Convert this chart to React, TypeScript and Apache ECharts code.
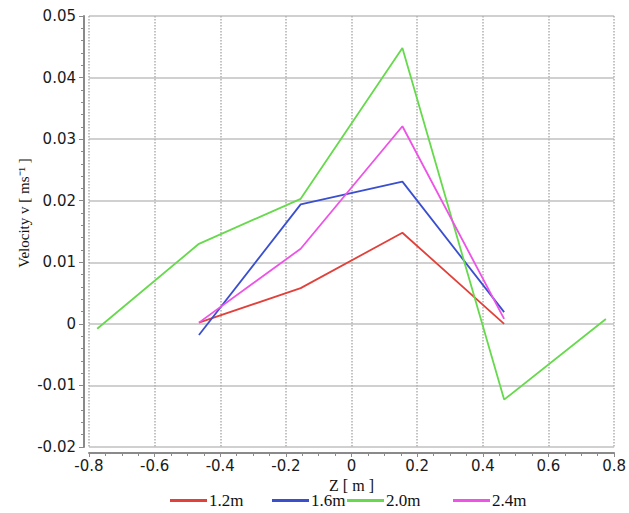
import React, { useEffect, useRef } from "react";
import * as echarts from "echarts";

const zFull = [-0.775, -0.465, -0.155, 0.155, 0.465, 0.775];
const zInner = [-0.465, -0.155, 0.155, 0.465];

const v12 = [0.0002, 0.0058, 0.0148, 0.0];
const v16 = [-0.0018, 0.0194, 0.0231, 0.0019];
const v20 = [-0.0008, 0.013, 0.0203, 0.0448, -0.0123, 0.0008];
const v24 = [0.0002, 0.0122, 0.0321, 0.0008];

const seriesNames = ["1.2m", "1.6m", "2.0m", "2.4m"];
const seriesColors = ["#e2403a", "#3a4fcf", "#66d94c", "#ee52e6"];
const legendLeft = [170, 272, 347, 453];

const xTitle = "Z [ m ]";
const yTitle = "Velocity v [ ms⁻¹ ]";

const pairs = (xs: number[], ys: number[]) => xs.map((x, i) => [x, ys[i]]);

export default function App() {
  const ref = useRef<HTMLDivElement>(null);
  useEffect(() => {
    if (!ref.current) return;
    const chart = echarts.init(ref.current, undefined, { renderer: "svg" });
    const dataSets = [
      pairs(zInner, v12),
      pairs(zInner, v16),
      pairs(zFull, v20),
      pairs(zInner, v24),
    ];
    const tickFont = {
      fontFamily: "DejaVu Sans",
      fontSize: 15,
      color: "#1a1a1a",
    };
    chart.setOption({
      animation: false,
      backgroundColor: "#fff",
      grid: { left: 89, right: 14, top: 16, bottom: 66, containLabel: false },
      legend: seriesNames.map((n, i) => ({
        data: [n],
        left: legendLeft[i],
        top: 492,
        icon: "rect",
        itemWidth: 37,
        itemHeight: 3,
        itemGap: 4,
        padding: 0,
        textStyle: {
          fontFamily: "Liberation Serif",
          fontSize: 17,
          color: "#111",
          padding: [0, 0, 0, -3],
        },
      })),
      xAxis: {
        type: "value",
        min: -0.8,
        max: 0.8,
        interval: 0.2,
        offset: 6,
        axisLine: { show: true, onZero: false, lineStyle: { color: "#8a8a8a", width: 2 } },
        axisTick: { show: true, length: 4, lineStyle: { color: "#8a8a8a" } },
        minorTick: { show: true, splitNumber: 4, length: 3, lineStyle: { color: "#8a8a8a" } },
        splitLine: { show: true, lineStyle: { color: "#b0b0b0", type: "dotted", width: 1.5 } },
        axisLabel: {
          ...tickFont,
          margin: 5,
          formatter: (v: number) => String(Math.round(v * 10) / 10),
        },
        name: xTitle,
        nameLocation: "middle",
        nameGap: 19,
        nameTextStyle: { fontFamily: "Liberation Serif", fontSize: 16, color: "#111" },
      },
      yAxis: {
        type: "value",
        min: -0.02,
        max: 0.05,
        interval: 0.01,
        offset: 5,
        axisLine: { show: true, onZero: false, lineStyle: { color: "#8a8a8a", width: 2 } },
        axisTick: { show: true, length: 5, lineStyle: { color: "#8a8a8a" } },
        minorTick: { show: true, splitNumber: 5, length: 3, lineStyle: { color: "#8a8a8a" } },
        splitLine: { show: true, lineStyle: { color: "#c0c0c0", width: 1.5 } },
        axisLabel: {
          ...tickFont,
          margin: 8,
          formatter: (v: number) => String(Math.round(v * 100) / 100),
        },
      },
      graphic: [
        {
          type: "text",
          x: 24,
          y: 213,
          rotation: Math.PI / 2,
          style: {
            text: yTitle,
            align: "center",
            verticalAlign: "middle",
            fontFamily: "Liberation Serif",
            fontSize: 15,
            fill: "#111",
          },
        },
      ],
      series: seriesNames.map((n, i) => ({
        name: n,
        type: "line",
        data: dataSets[i],
        showSymbol: false,
        symbol: "none",
        color: seriesColors[i],
        lineStyle: { color: seriesColors[i], width: 1.8 },
      })),
    });
    return () => chart.dispose();
  }, []);
  return (
    <div
      ref={ref}
      style={{ position: "fixed", left: 0, top: 0, width: 629, height: 513 }}
    />
  );
}
